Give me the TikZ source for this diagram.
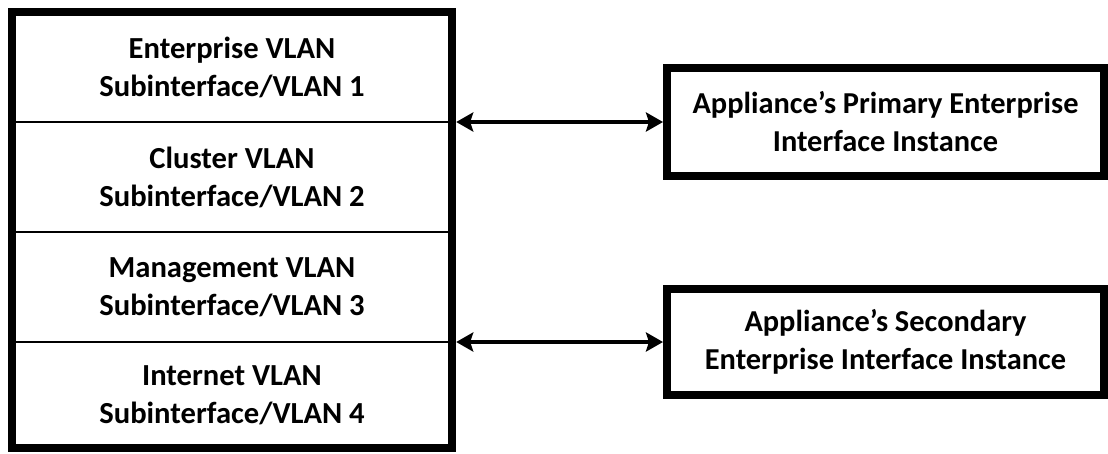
\documentclass[tikz,border=0pt]{standalone}
\usepackage{fontspec}
\setmainfont{Carlito}
\usetikzlibrary{arrows.meta,fit}
\tikzset{
	vlan/.style={minimum width=440pt,inner sep=0pt,align=center,
		font=\bfseries\fontsize{30.6}{38}\selectfont},
	outerbox/.style={draw,line width=8pt,inner sep=0pt},
	divider/.style={line width=2pt},
	instance/.style={draw,line width=8pt,minimum width=437pt,minimum height=108pt,
		inner sep=0pt,align=center,font=\bfseries\fontsize{30.4}{38}\selectfont},
	link/.style={line width=4pt,{Stealth[length=17pt,width=19pt,inset=3pt]}-{Stealth[length=17pt,width=19pt,inset=3pt]}}
}
\begin{document}
\begin{tikzpicture}[x=1pt,y=-1pt]
	\useasboundingbox (0,0) rectangle (1108,453);
	
	% subinterfaces, one row each
	\node[vlan,minimum height=110pt] (V1) at (232,67) {Enterprise VLAN\\Subinterface/VLAN 1};
	\node[vlan,minimum height=110pt] (V2) at (232,177) {Cluster VLAN\\Subinterface/VLAN 2};
	\node[vlan,minimum height=110pt] (V3) at (232,287) {Management VLAN\\Subinterface/VLAN 3};
	\node[vlan,minimum height=106pt] (V4) at (232,395) {Internet VLAN\\Subinterface/VLAN 4};
	
	\node[outerbox,fit=(V1)(V4)] (SW) {};
	
	\draw[divider] (V1.south west) -- (V1.south east);
	\draw[divider] (V2.south west) -- (V2.south east);
	\draw[divider] (V3.south west) -- (V3.south east);
	
	% interface instances
	\node[instance] (PRI) at (885.5,122) {Appliance’s Primary Enterprise\\Interface Instance};
	\node[instance,minimum height=106pt] (SEC) at (885.5,342) {Appliance’s Secondary\\Enterprise Interface Instance};
	
	\draw[link] (SW.east |- PRI.west) -- (PRI.west);
	\draw[link] (SW.east |- SEC.west) -- (SEC.west);
\end{tikzpicture}
\end{document}
